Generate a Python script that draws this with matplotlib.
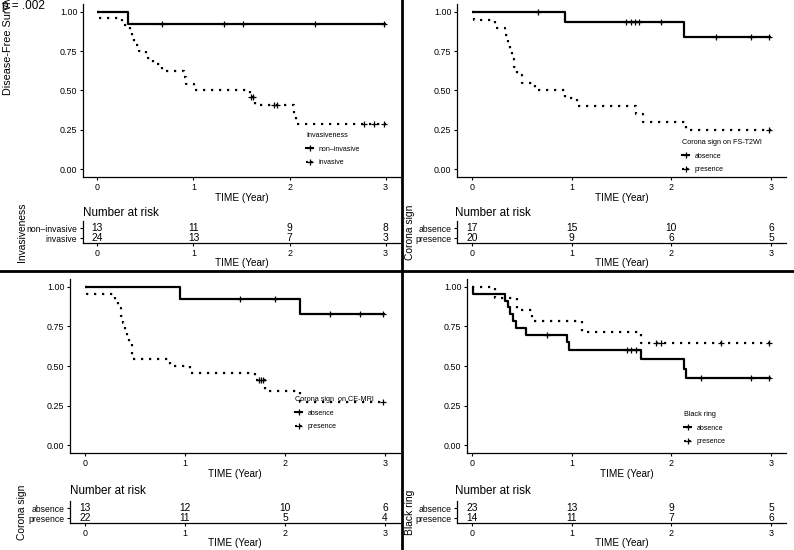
import matplotlib
matplotlib.use('Agg')
import matplotlib.pyplot as plt
from matplotlib.lines import Line2D

plt.rcParams['font.family'] = ['Liberation Sans', 'DejaVu Sans']

W, H = 794, 550

# ---- panel A: invasiveness ----
a_title = 'Invasiveness'
a_groups = ['non\u2013invasive', 'invasive']
a_t1 = [0.32]
a_s1 = [0.923]
a_c1 = [0.67, 1.32, 1.52, 2.26, 2.98]
a_t2 = [0.02, 0.26, 0.34, 0.36, 0.38, 0.43, 0.51, 0.58, 0.67, 0.90, 0.92, 1.01, 1.59, 1.64, 2.05, 2.07]
a_s2 = [0.958, 0.917, 0.875, 0.833, 0.792, 0.75, 0.708, 0.667, 0.625, 0.583, 0.542, 0.50, 0.458, 0.41, 0.35, 0.29]
a_c2 = [1.60, 1.62, 1.84, 1.87, 2.78, 2.88, 2.98]
a_risk1 = [13, 11, 9, 8]
a_risk2 = [24, 13, 7, 3]

# ---- panel B: corona sign on FS-T2WI ----
b_title = 'Corona sign on FS-T2WI'
b_groups = ['absence', 'presence']
b_t1 = [0.93, 2.13]
b_s1 = [0.933, 0.84]
b_c1 = [0.66, 1.55, 1.6, 1.64, 1.68, 1.9, 2.45, 2.8, 2.98]
b_t2 = [0.02, 0.23, 0.33, 0.36, 0.38, 0.40, 0.42, 0.45, 0.50, 0.63, 0.93, 1.05, 1.65, 1.72, 2.15]
b_s2 = [0.95, 0.90, 0.85, 0.80, 0.75, 0.70, 0.65, 0.60, 0.55, 0.50, 0.45, 0.40, 0.35, 0.30, 0.25]
b_c2 = [2.98]
b_risk1 = [17, 15, 10, 6]
b_risk2 = [20, 9, 6, 5]

# ---- panel C: corona sign on CE-MRI ----
c_title = 'Corona sign  on CE-MRI'
c_groups = ['absence', 'presence']
c_t1 = [0.95, 2.15]
c_s1 = [0.923, 0.83]
c_c1 = [1.55, 1.9, 2.45, 2.75, 2.98]
c_t2 = [0.02, 0.30, 0.33, 0.36, 0.38, 0.40, 0.42, 0.44, 0.47, 0.85, 0.95, 1.05, 1.70, 1.80, 2.15]
c_s2 = [0.955, 0.909, 0.864, 0.818, 0.773, 0.727, 0.682, 0.636, 0.545, 0.50, 0.50, 0.455, 0.409, 0.341, 0.273]
c_c2 = [1.74, 1.76, 1.78, 2.98]
c_risk1 = [13, 12, 10, 6]
c_risk2 = [22, 11, 5, 4]

# ---- panel D: black ring ----
d_title = 'Black ring'
d_groups = ['absence', 'presence']
d_t1 = [0.01, 0.33, 0.36, 0.38, 0.41, 0.44, 0.54, 0.95, 0.97, 1.70, 2.13, 2.15]
d_s1 = [0.957, 0.913, 0.870, 0.826, 0.783, 0.739, 0.696, 0.65, 0.603, 0.543, 0.48, 0.422]
d_c1 = [0.75, 1.55, 1.6, 1.65, 2.3, 2.8, 2.98]
d_t2 = [0.23, 0.45, 0.60, 1.10, 1.70]
d_s2 = [0.929, 0.857, 0.786, 0.714, 0.643]
d_c2 = [1.85, 1.9, 2.5, 2.98]
d_risk1 = [23, 13, 9, 5]
d_risk2 = [14, 11, 7, 6]

risk_times = [0, 1, 2, 3]

fig = plt.figure(figsize=(W / 100, H / 100), dpi=100)


def add_ax(x0, y0, x1, y1):
    return fig.add_axes([x0 / W, 1 - y1 / H, (x1 - x0) / W, (y1 - y0) / H])


def surv_at(times, surv, t):
    s = 1.0
    for ti, si in zip(times, surv):
        if ti <= t:
            s = si
    return s


def style_axis(ax):
    for side in ['top', 'right']:
        ax.spines[side].set_visible(False)
    for side in ['left', 'bottom']:
        ax.spines[side].set_linewidth(0.9)
    ax.tick_params(length=2.5, width=0.8, labelsize=6.4, pad=1.5)


def draw_km(ax, t1, s1, c1, t2, s2, c2, xlim):
    for t, s, c, ls in [(t1, s1, c1, '-'), (t2, s2, c2, (0, (1, 2.6)))]:
        xs = [0] + list(t) + [3.0]
        ys = [1.0] + list(s) + [s[-1]]
        ax.step(xs, ys, where='post', color='black', lw=1.6, ls=ls,
                solid_capstyle='butt')
        cy = [surv_at(t, s, ci) for ci in c]
        ax.plot(c, cy, ls='none', marker='+', ms=5, mew=0.9, color='black')
    ax.set_xlim(*xlim)
    ax.set_ylim(-0.05, 1.05)
    ax.set_yticks([0, 0.25, 0.5, 0.75, 1.0])
    ax.set_yticklabels(['0.00', '0.25', '0.50', '0.75', '1.00'])
    ax.set_xticks(risk_times)
    style_axis(ax)
    ax.set_xlabel('TIME (Year)', fontsize=7.2, labelpad=1)


def draw_legend(ax, title, groups, x, y):
    handles = [Line2D([], [], color='black', lw=1.5, ls='-', marker='+', ms=5, mew=0.9),
               Line2D([], [], color='black', lw=1.5, ls=(0, (1, 1.2)), marker='+', ms=5, mew=0.9)]
    leg = ax.legend(handles, groups, title=title, loc='upper left',
                    bbox_to_anchor=(x / W, 1 - y / H), bbox_transform=fig.transFigure,
                    frameon=False, fontsize=5, title_fontsize=5.2, handlelength=1.0,
                    handletextpad=0.8, labelspacing=0.9, borderpad=0, alignment='left')
    return leg


def draw_risk(ax, groups, r1, r2, xlim, ylabel, ylab_x, title_x, title_y):
    ax.set_xlim(*xlim)
    ax.set_ylim(0.5, 2.7)
    for t, v in zip(risk_times, r1):
        ax.text(t, 2, str(v), ha='center', va='center', fontsize=7.4)
    for t, v in zip(risk_times, r2):
        ax.text(t, 1, str(v), ha='center', va='center', fontsize=7.4)
    ax.set_yticks([2, 1])
    ax.set_yticklabels(groups)
    ax.set_xticks(risk_times)
    style_axis(ax)
    ax.tick_params(axis='y', labelsize=6.2)
    ax.set_xlabel('TIME (Year)', fontsize=7.2, labelpad=0.5)
    ymid = (ax.get_position().y0 + ax.get_position().y1) / 2
    fig.text(ylab_x / W, ymid, ylabel, rotation=90, ha='center', va='center', fontsize=7.4)
    fig.text(title_x / W, 1 - title_y / H, 'Number at risk', ha='left', va='center', fontsize=8.4)


# top-left
ax = add_ax(83, 4, 400, 177)
draw_km(ax, a_t1, a_s1, a_c1, a_t2, a_s2, a_c2, (-0.15, 3.15))
draw_legend(ax, a_title, a_groups, 303, 129)
ax = add_ax(83, 221, 400, 243)
draw_risk(ax, a_groups, a_risk1, a_risk2, (-0.15, 3.15), 'Invasiveness', 22, 83, 213)

# top-right
ax = add_ax(457, 4, 786, 177)
draw_km(ax, b_t1, b_s1, b_c1, b_t2, b_s2, b_c2, (-0.15, 3.15))
draw_legend(ax, b_title, b_groups, 679, 136)
ax = add_ax(457, 221, 786, 243)
draw_risk(ax, b_groups, b_risk1, b_risk2, (-0.15, 3.15), 'Corona sign', 410, 455, 213)

# bottom-left
ax = add_ax(70, 279, 400, 453)
draw_km(ax, c_t1, c_s1, c_c1, c_t2, c_s2, c_c2, (-0.15, 3.15))
draw_legend(ax, c_title, c_groups, 292, 393)
ax = add_ax(70, 501, 400, 523)
draw_risk(ax, c_groups, c_risk1, c_risk2, (-0.15, 3.15), 'Corona sign', 22, 70, 491)

# bottom-right
ax = add_ax(467, 279, 786, 453)
draw_km(ax, d_t1, d_s1, d_c1, d_t2, d_s2, d_c2, (-0.05, 3.15))
draw_legend(ax, d_title, d_groups, 681, 408)
ax = add_ax(457, 501, 786, 523)
draw_risk(ax, d_groups, d_risk1, d_risk2, (-0.15, 3.15), 'Black ring', 410, 455, 491)

# overall y label and p value (overlapping like in the source)
fig.text(8 / W, 1 - 95 / H, 'Disease-Free Survival', rotation=90, ha='center', va='bottom', fontsize=7.8)
fig.text(2 / W, 1 - 6 / H, 'p = .002', ha='left', va='center', fontsize=8.5)

# panel dividers
fig.add_artist(Line2D([402 / W, 402 / W], [0, 1], transform=fig.transFigure, color='black', lw=2))
fig.add_artist(Line2D([0, 1], [1 - 271 / H, 1 - 271 / H], transform=fig.transFigure, color='black', lw=2))

fig.savefig('out.png', dpi=100)
